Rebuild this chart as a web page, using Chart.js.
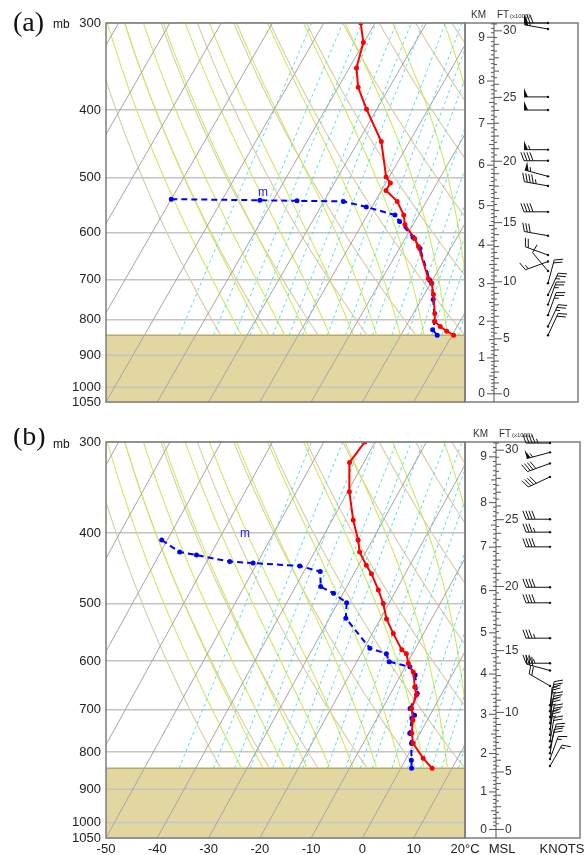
<!DOCTYPE html>
<html>
<head>
<meta charset="utf-8">
<script src="https://cdn.jsdelivr.net/npm/chart.js@4.4.0/dist/chart.umd.min.js"></script>
<style>
  html, body { margin: 0; padding: 0; background: #fff; }
  #wrap { position: relative; width: 585px; height: 855px; }
  canvas { position: absolute; left: 0; }
  #chartA { top: 0; }
  #chartB { top: 428px; }
</style>
</head>
<body>
<div id="wrap">
  <canvas id="chartA" width="585" height="428"></canvas>
  <canvas id="chartB" width="585" height="427"></canvas>
</div>
<script>
// axis ticks
const pressureTicks = [300, 400, 500, 600, 700, 800, 900, 1000, 1050];
const tempTicks = [-50, -40, -30, -20, -10, 0, 10, 20];

// reference lines of the diagram
const isotherms = [-110, -100, -90, -80, -70, -60, -50, -40, -30, -20, -10, 0, 10, 20];
const dryThetaK = [250, 260, 270, 280, 290, 300, 310, 320, 330, 340, 350, 360, 370, 380, 390, 400, 410, 420, 430, 440, 450, 460];
const moistStartC = [-20, -16, -12, -8, -4, 0, 4, 8, 12, 16, 20, 24, 28, 32, 36];
const mixingRatios = [0.1, 0.2, 0.3, 0.4, 0.6, 0.8, 1, 1.5, 2, 2.5, 3, 4, 5, 6, 7, 8, 10, 12, 14, 16, 18, 20, 24, 28, 32, 36, 40];

// sounding (a)
const presA = [300, 320, 348, 371, 399, 444, 499, 509, 522, 541, 566, 584, 612, 628, 698, 709, 736, 784, 805, 818, 831, 842];
const tempA = [-42.8, -40.1, -38.6, -36.1, -32.0, -25.5, -20.6, -19.1, -19.1, -15.7, -12.9, -11.6, -8.1, -6.5, -1.0, 0.2, 1.8, 4.2, 5.1, 6.7, 8.5, 10.3];
const dewPresA = [537, 539, 540, 541, 551, 566, 578, 609, 632, 702, 709, 748, 805, 827, 842];
const dewA = [-60.0, -42.6, -35.3, -26.2, -21.1, -14.6, -13.0, -8.6, -6.0, -0.5, 0.2, 2.3, 5.1, 5.6, 7.1];
const windPresA = [300, 306, 383, 400, 456, 473, 498, 514, 560, 606, 646, 660, 681, 709, 737, 761, 788, 818, 842];
const windDirA = [270, 280, 270, 270, 270, 270, 285, 280, 270, 280, 290, 250, 320, 15, 25, 20, 20, 25, 25];
const windSpdA = [70, 55, 50, 50, 55, 40, 55, 45, 40, 30, 20, 15, 10, 20, 25, 25, 25, 25, 20];

// sounding (b)
const presB = [300, 320, 351, 384, 409, 425, 443, 455, 479, 500, 525, 550, 579, 586, 604, 621, 651, 668, 697, 723, 754, 778, 816, 842];
const tempB = [-42.0, -42.8, -39.7, -35.9, -32.8, -31.2, -28.5, -26.6, -23.5, -21.1, -18.8, -15.9, -12.5, -11.2, -9.8, -7.9, -6.0, -4.8, -4.3, -2.8, -1.6, -0.3, 3.3, 6.1];
const dewPresB = [409, 425, 429, 438, 440, 444, 452, 474, 484, 499, 524, 576, 586, 601, 611, 627, 665, 697, 712, 719, 754, 778, 821, 842];
const dewB = [-71.1, -66.3, -62.7, -55.5, -50.8, -41.4, -36.8, -35.1, -31.9, -28.3, -26.8, -18.9, -15.1, -13.7, -9.1, -7.2, -4.8, -4.6, -3.0, -3.2, -2.0, -0.6, 1.2, 2.1];
const windPresB = [301, 310, 321, 335, 383, 399, 418, 475, 499, 558, 604, 618, 649, 690, 703, 716, 730, 744, 758, 773, 788, 803, 818, 836];
const windDirB = [270, 255, 250, 245, 270, 270, 270, 270, 270, 270, 270, 285, 300, 10, 5, 10, 5, 10, 5, 10, 15, 10, 20, 30];
const windSpdB = [45, 55, 40, 40, 40, 35, 40, 40, 40, 35, 35, 30, 20, 25, 25, 25, 25, 25, 25, 20, 20, 20, 15, 15];

const SKEW = 33.9;        // isotherm shift (deg C) per unit of ln(p)
const P_BOTTOM = 1050, P_TOP = 300, P_GROUND = 842;

Chart.defaults.font.family = '"Liberation Sans", Arial, sans-serif';

function skewX(t, p) {
    return t + SKEW * Math.log(P_BOTTOM / p);
}

// pressure levels used to trace the curved background lines
const curveLevels = [P_GROUND];
for (let p = 830; p >= P_TOP; p -= 10) curveLevels.push(p);

function isothermLine(t) {
    return [{ x: skewX(t, P_BOTTOM), y: P_BOTTOM }, { x: skewX(t, P_TOP), y: P_TOP }];
}

function dryLine(thetaK) {
    return curveLevels.map(p => ({ x: skewX(thetaK * Math.pow(p / 1000, 0.2857) - 273.15, p), y: p }));
}

function mixLine(w) {
    return curveLevels.map(p => {
        const e = w * p / (622 + w);
        const l = Math.log(e / 6.112);
        return { x: skewX(243.5 * l / (17.67 - l), p), y: p };
    });
}

function moistLapse(p, t) {
    const T = t + 273.15;
    const es = 6.112 * Math.exp(17.67 * t / (t + 243.5));
    const rs = 0.622 * es / (p - es);
    const Lv = 2.501e6, Rd = 287.04, Cp = 1005.7;
    return (Rd * T + Lv * rs) / (p * (Cp + Lv * Lv * rs * 0.622 / (Rd * T * T)));
}

function moistStep(t, p, dp) {
    const k1 = moistLapse(p, t);
    const k2 = moistLapse(p + dp / 2, t + k1 * dp / 2);
    const k3 = moistLapse(p + dp / 2, t + k2 * dp / 2);
    const k4 = moistLapse(p + dp, t + k3 * dp);
    return t + dp * (k1 + 2 * k2 + 2 * k3 + k4) / 6;
}

function integrateMoist(t, p0, p1) {
    const n = Math.max(1, Math.round(Math.abs(p1 - p0) / 2));
    const dp = (p1 - p0) / n;
    for (let i = 0; i < n; i++) t = moistStep(t, p0 + i * dp, dp);
    return t;
}

function moistLine(t0) {
    let t = integrateMoist(t0, 1000, curveLevels[0]);
    const pts = [{ x: skewX(t, curveLevels[0]), y: curveLevels[0] }];
    for (let i = 1; i < curveLevels.length; i++) {
        t = integrateMoist(t, curveLevels[i - 1], curveLevels[i]);
        pts.push({ x: skewX(t, curveLevels[i]), y: curveLevels[i] });
    }
    return pts;
}

function pAtKm(h) {
    return 1022 * Math.pow(1 - h / 44.8, 5.256);
}

const panelInfo = {
    chartA: { label: '(a)', labelDy: 1, mbDy: 2, showX: false, axisX: 494, boxRight: 578, stationX: 548,
              windP: windPresA, windDir: windDirA, windSpd: windSpdA, mark: { x: -19.4, p: 529 } },
    chartB: { label: '(b)', labelDy: -4, mbDy: 3, showX: true, axisX: 496, boxRight: 580, stationX: 550,
              windP: windPresB, windDir: windDirB, windSpd: windSpdB, mark: { x: -22.9, p: 403 } }
};

function line(ctx, x1, y1, x2, y2) {
    ctx.beginPath();
    ctx.moveTo(x1, y1);
    ctx.lineTo(x2, y2);
    ctx.stroke();
}

function drawBarb(ctx, x, y, dir, spd) {
    const r = dir * Math.PI / 180;
    const vx = Math.sin(r), vy = -Math.cos(r);   // toward where the wind comes from
    const px = -vy, py = vx;                     // feather side
    const L = 24, fl = 9, gap = 3, tilt = 0.35;
    const fx = px * Math.cos(tilt) + vx * Math.sin(tilt);
    const fy = py * Math.cos(tilt) + vy * Math.sin(tilt);
    line(ctx, x, y, x + vx * L, y + vy * L);
    let s = Math.round(spd / 5) * 5;
    let d = L;
    while (s >= 50) {
        const bx = x + vx * d, by = y + vy * d;
        ctx.beginPath();
        ctx.moveTo(bx, by);
        ctx.lineTo(bx + px * fl, by + py * fl);
        ctx.lineTo(x + vx * (d - 4), y + vy * (d - 4));
        ctx.closePath();
        ctx.fill();
        d -= 6;
        s -= 50;
    }
    while (s >= 10) {
        const bx = x + vx * d, by = y + vy * d;
        line(ctx, bx, by, bx + fx * fl, by + fy * fl);
        d -= gap;
        s -= 10;
    }
    if (s >= 5) {
        if (d === L) d -= gap;
        const bx = x + vx * d, by = y + vy * d;
        line(ctx, bx, by, bx + fx * fl / 2, by + fy * fl / 2);
    }
    ctx.beginPath();
    ctx.arc(x, y, 1.2, 0, Math.PI * 2);
    ctx.fill();
}

const skewDecor = {
    id: 'skewDecor',
    beforeDatasetsDraw(chart) {
        const { ctx, chartArea: a, scales: { y } } = chart;
        const gy = y.getPixelForValue(P_GROUND);
        ctx.save();
        ctx.fillStyle = 'rgb(226,215,160)';
        ctx.fillRect(a.left, gy, a.right - a.left, a.bottom - gy);
        ctx.strokeStyle = '#c4c4c4';
        ctx.lineWidth = 1.5;
        [900, 1000].forEach(p => line(ctx, a.left, y.getPixelForValue(p), a.right, y.getPixelForValue(p)));
        ctx.strokeStyle = 'rgb(185,170,100)';
        ctx.lineWidth = 1.5;
        line(ctx, a.left, gy, a.right, gy);
        ctx.restore();
    },
    afterDraw(chart) {
        const info = panelInfo[chart.canvas.id];
        const { ctx, chartArea: a, scales: { x, y } } = chart;
        ctx.save();
        ctx.strokeStyle = '#7c7c7c';
        ctx.lineWidth = 1.5;
        ctx.strokeRect(a.left, a.top, a.right - a.left, a.bottom - a.top);
        ctx.strokeRect(a.right, a.top, info.boxRight - a.right, a.bottom - a.top);

        // panel label and unit
        ctx.fillStyle = '#111';
        ctx.textBaseline = 'middle';
        ctx.textAlign = 'left';
        ctx.font = '28px "Liberation Serif", "Times New Roman", serif';
        ctx.fillText(info.label, 13, a.top + info.labelDy);
        ctx.font = '12px "Liberation Sans", Arial, sans-serif';
        ctx.fillText('mb', 53, a.top + info.mbDy);

        // marker on the dewpoint trace
        ctx.fillStyle = '#2020ff';
        ctx.textAlign = 'center';
        ctx.font = '12px "Liberation Sans", Arial, sans-serif';
        ctx.fillText('m', x.getPixelForValue(info.mark.x), y.getPixelForValue(info.mark.p) - 2);

        // altitude ruler
        const ax = info.axisX;
        ctx.strokeStyle = '#555';
        ctx.lineWidth = 1;
        line(ctx, ax, a.top, ax, a.bottom);
        ctx.fillStyle = '#333';
        ctx.font = '12px "Liberation Sans", Arial, sans-serif';
        ctx.textAlign = 'right';
        for (let i = 0; i <= 94; i++) {
            const py = y.getPixelForValue(pAtKm(i / 10));
            if (py < a.top) continue;
            const len = i % 10 === 0 ? 7 : (i % 5 === 0 ? 5 : 3);
            line(ctx, ax - len, py, ax, py);
            if (i % 10 === 0) ctx.fillText(String(i / 10), ax - 9, py);
        }
        ctx.textAlign = 'left';
        ctx.font = '12px "Liberation Sans", Arial, sans-serif';
        for (let f = 0; f <= 31; f += 0.5) {
            const py = y.getPixelForValue(pAtKm(f * 0.3048));
            if (py < a.top) continue;
            const len = f % 5 === 0 ? 8 : (Number.isInteger(f) ? 5 : 3);
            line(ctx, ax, py, ax + len, py);
            if (f % 5 === 0) ctx.fillText(String(f), ax + 9, py);
        }
        ctx.font = '10px "Liberation Sans", Arial, sans-serif';
        ctx.textAlign = 'right';
        ctx.fillText('KM', ax - 8, a.top - 8);
        ctx.textAlign = 'left';
        ctx.fillText('FT', ax + 3, a.top - 8);
        ctx.font = '6px "Liberation Sans", Arial, sans-serif';
        ctx.fillText('(x1000)', ax + 16, a.top - 7);

        if (info.showX) {
            ctx.font = '13px "Liberation Sans", Arial, sans-serif';
            ctx.fillStyle = '#222';
            ctx.textAlign = 'center';
            ctx.fillText('MSL', ax + 6, a.bottom + 11);
            ctx.fillText('KNOTS', 562, a.bottom + 11);
        }

        // wind barbs
        ctx.strokeStyle = '#111';
        ctx.fillStyle = '#111';
        ctx.lineWidth = 1;
        info.windP.forEach((p, i) => {
            drawBarb(ctx, info.stationX, y.getPixelForValue(p), info.windDir[i], info.windSpd[i]);
        });
        ctx.restore();
    }
};

function bgLine(points, color, width, dash) {
    return { data: points, showLine: true, borderColor: color, borderWidth: width, borderDash: dash, pointRadius: 0, fill: false };
}

function makePanel(id, pres, temp, dewPres, dew) {
    const info = panelInfo[id];
    const datasets = [
        { data: pres.map((p, i) => ({ x: skewX(temp[i], p), y: p })), showLine: true,
          borderColor: '#ff0000', backgroundColor: '#ff0000', borderWidth: 2, pointRadius: 1.5 },
        { data: dewPres.map((p, i) => ({ x: skewX(dew[i], p), y: p })), showLine: true,
          borderColor: '#0000ff', backgroundColor: '#0000ff', borderWidth: 2, borderDash: [6, 4], pointRadius: 1.5 }
    ];
    isotherms.forEach(t => datasets.push(bgLine(isothermLine(t), 'rgb(165,165,165)', 1, [])));
    mixingRatios.forEach(w => datasets.push(bgLine(mixLine(w), 'rgb(80,224,224)', 1, [3, 3])));
    moistStartC.forEach(t => datasets.push(bgLine(moistLine(t), 'rgb(204,234,96)', 1.1, [])));
    dryThetaK.forEach(th => datasets.push(bgLine(dryLine(th), 'rgb(216,204,166)', 1.1, [])));

    return new Chart(document.getElementById(id), {
        type: 'scatter',
        data: { datasets },
        plugins: [skewDecor],
        options: {
            responsive: false,
            animation: false,
            events: [],
            layout: { padding: { left: 0, right: 120, top: info.showX ? 14 : 23, bottom: info.showX ? 0 : 9 } },
            plugins: { legend: { display: false }, tooltip: { enabled: false } },
            scales: {
                x: {
                    type: 'linear', min: -50, max: 20, display: info.showX,
                    grid: { display: false, drawTicks: false },
                    border: { display: false },
                    afterBuildTicks: s => { s.ticks = tempTicks.map(v => ({ value: v })); },
                    afterFit: s => { s.height = 17; },
                    ticks: { padding: 4, maxRotation: 0, autoSkip: false, color: '#222', font: { size: 13 },
                             callback: v => v === 20 ? '20°C' : String(v) }
                },
                y: {
                    type: 'logarithmic', reverse: true, min: P_TOP, max: P_BOTTOM,
                    afterBuildTicks: s => { s.ticks = pressureTicks.map(v => ({ value: v })); },
                    afterFit: s => { s.width = 106; },
                    grid: { color: '#c4c4c4', lineWidth: 1.5, drawTicks: false },
                    border: { display: false },
                    ticks: { padding: 5, autoSkip: false, color: '#222', font: { size: 13 }, callback: v => String(v) }
                }
            }
        }
    });
}

makePanel('chartA', presA, tempA, dewPresA, dewA);
makePanel('chartB', presB, tempB, dewPresB, dewB);
</script>
</body>
</html>
